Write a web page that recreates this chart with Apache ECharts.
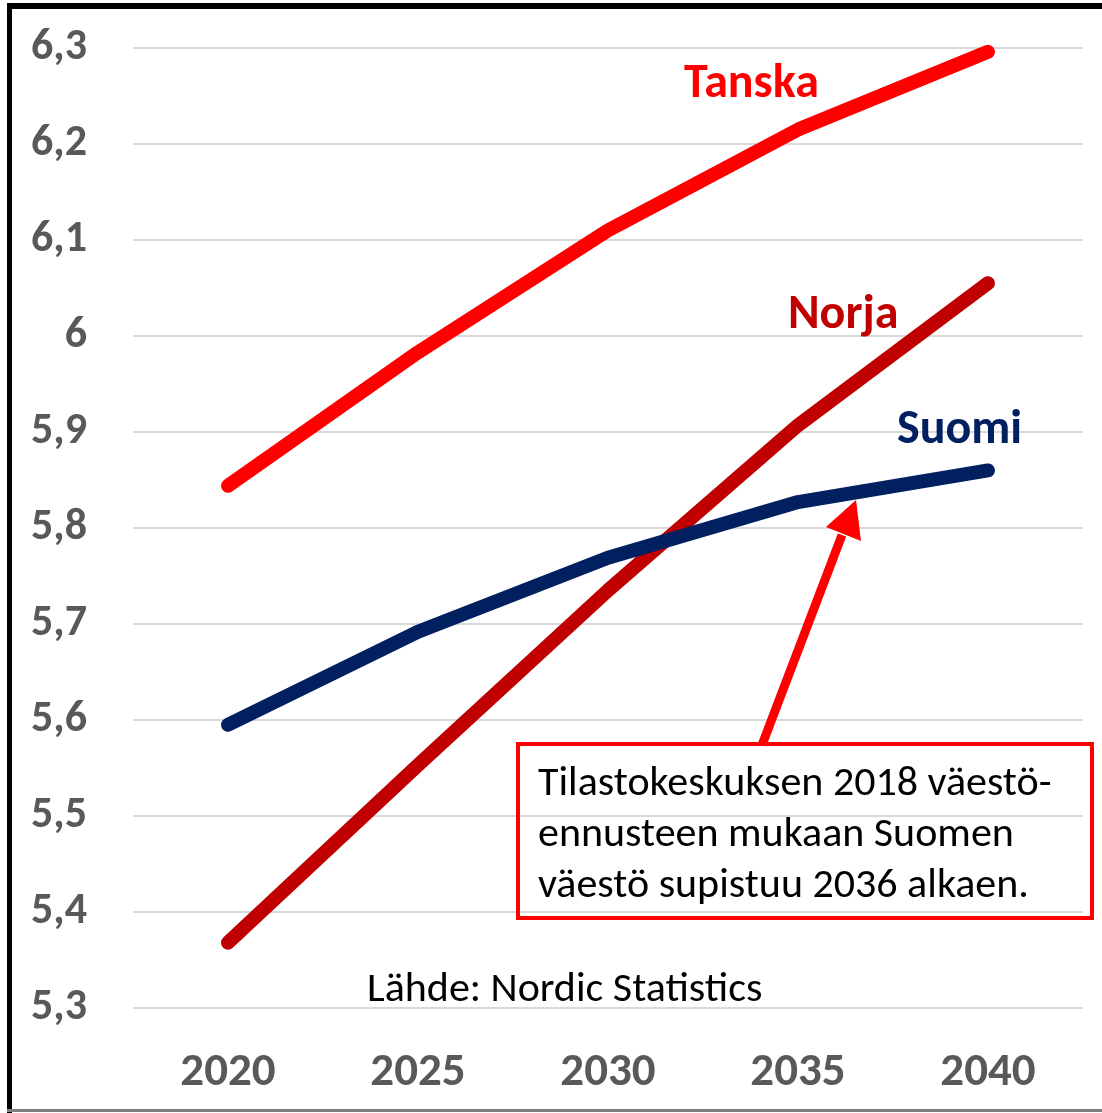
<!DOCTYPE html>
<html>
<head>
<meta charset="utf-8">
<script src="https://cdn.jsdelivr.net/npm/echarts@6/dist/echarts.min.js"></script>
<style>
    body { margin: 0; background: #fff; }
    #main { width: 1102px; height: 1113px; }
</style>
</head>
<body>
<div id="main"></div>
<script>
"use strict";

var years = ['2020', '2025', '2030', '2035', '2040'];
var tanska = [5.844, 5.983, 6.110, 6.215, 6.296];
var norja = [5.368, 5.553, 5.735, 5.907, 6.055];
var suomi = [5.595, 5.692, 5.769, 5.827, 5.860];

var font = 'Carlito, Lato, sans-serif';

var chart = echarts.init(document.getElementById('main'));

var option = {
    backgroundColor: '#fff',
    animation: false,
    grid: {
        left: 133,
        right: 19,
        top: 48,
        bottom: 105
    },
    xAxis: {
        type: 'category',
        data: years,
        boundaryGap: true,
        axisLine: { show: false },
        axisTick: { show: false },
        axisLabel: {
            margin: 42,
            color: '#595959',
            fontFamily: font,
            fontWeight: 'bold',
            fontSize: 47
        }
    },
    yAxis: {
        type: 'value',
        min: 5.3,
        max: 6.3,
        interval: 0.1,
        axisLine: { show: false },
        axisTick: { show: false },
        splitLine: { lineStyle: { color: '#D9D9D9', width: 2 } },
        axisLabel: {
            margin: 46,
            color: '#595959',
            fontFamily: font,
            fontWeight: 'bold',
            fontSize: 44,
            formatter: function (v) {
                return (Math.round(v * 10) / 10).toString().replace('.', ',');
            }
        }
    },
    series: [
        {
            name: 'Tanska',
            type: 'line',
            data: tanska,
            symbol: 'none',
            lineStyle: { color: '#FF0000', width: 14, cap: 'round', join: 'round' }
        },
        {
            name: 'Norja',
            type: 'line',
            data: norja,
            symbol: 'none',
            lineStyle: { color: '#C00000', width: 14, cap: 'round', join: 'round' }
        },
        {
            name: 'Suomi',
            type: 'line',
            data: suomi,
            symbol: 'none',
            lineStyle: { color: '#002060', width: 14, cap: 'round', join: 'round' }
        }
    ],
    graphic: [
        // frame
        { type: 'rect', z: 100, shape: { x: 7, y: 3, width: 5, height: 1110 }, style: { fill: '#000' } },
        { type: 'rect', z: 100, shape: { x: 7, y: 3, width: 1095, height: 6 }, style: { fill: '#000' } },
        { type: 'rect', z: 100, shape: { x: 7, y: 1109, width: 1095, height: 3 }, style: { fill: '#7f7f7f' } },
        // series names
        { type: 'text', z: 100, left: 684, top: 61, style: { text: 'Tanska', fill: '#FF0000', font: 'bold 48px ' + font } },
        { type: 'text', z: 100, left: 788, top: 292, style: { text: 'Norja', fill: '#C00000', font: 'bold 48px ' + font } },
        { type: 'text', z: 100, left: 897, top: 407, style: { text: 'Suomi', fill: '#002060', font: 'bold 48px ' + font } },
        // arrow
        { type: 'line', z: 100, shape: { x1: 762, y1: 745, x2: 842, y2: 535 }, style: { stroke: '#FF0000', lineWidth: 9 } },
        { type: 'polygon', z: 100, shape: { points: [[856, 500], [861, 541], [826, 527]] }, style: { fill: '#FF0000' } },
        // note box (transparent, gridlines show through)
        { type: 'rect', z: 100, shape: { x: 518, y: 744, width: 574, height: 174 }, style: { fill: 'none', stroke: '#FF0000', lineWidth: 4 } },
        {
            type: 'text', z: 101, left: 538, top: 759,
            style: {
                text: 'Tilastokeskuksen 2018 väestö-\nennusteen mukaan Suomen\nväestö supistuu 2036 alkaen.',
                fill: '#000', font: '42px ' + font, lineHeight: 51
            }
        },
        { type: 'text', z: 100, left: 367, top: 969, style: { text: 'Lähde: Nordic Statistics', fill: '#000', font: '42px ' + font } }
    ]
};

chart.setOption(option);
</script>
</body>
</html>
